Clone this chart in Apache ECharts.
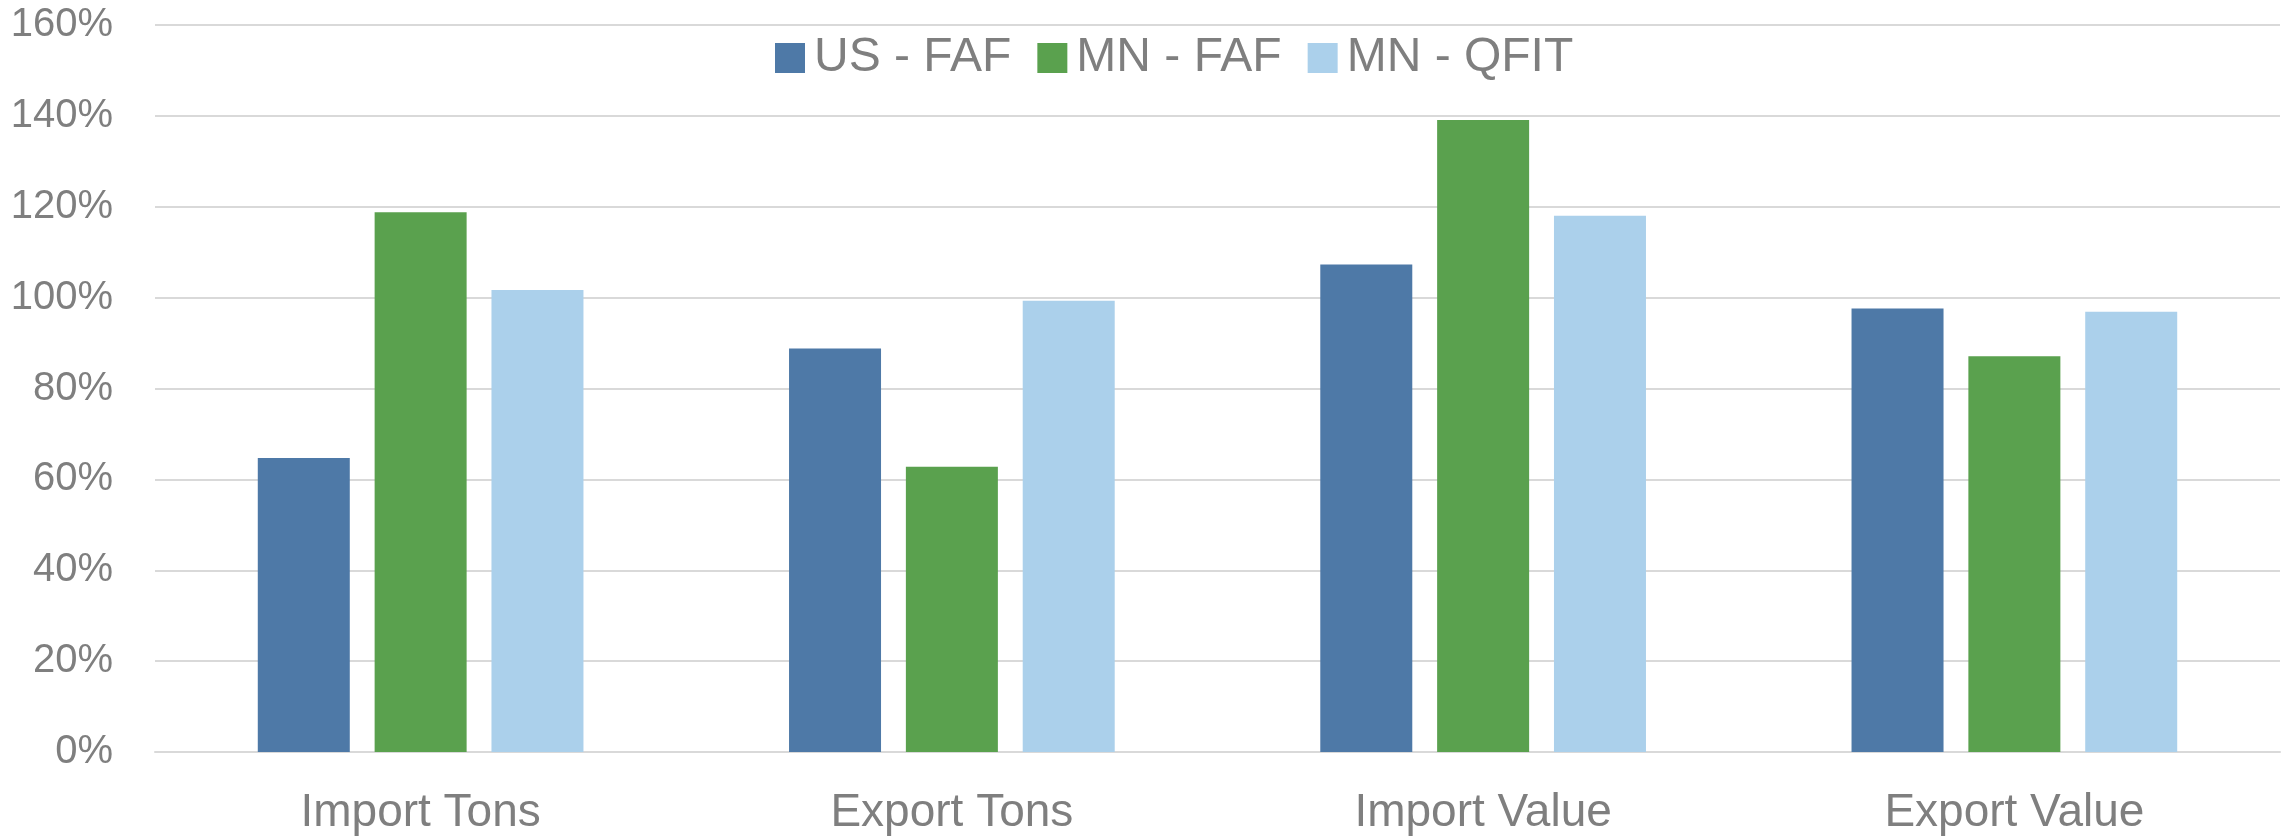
<!DOCTYPE html>
<html>
<head>
<meta charset="utf-8">
<script src="https://cdn.jsdelivr.net/npm/echarts@6/dist/echarts.min.js"></script>
<style>
  html, body { margin: 0; padding: 0; background: #fff; }
  #chart { width: 2292px; height: 838px; }
</style>
</head>
<body>
<div id="chart"></div>
<script>
const categories = ['Import Tons', 'Export Tons', 'Import Value', 'Export Value'];
const usFaf = [64.7, 88.8, 107.3, 97.6];
const mnFaf = [118.8, 62.8, 139.1, 87.1];
const mnQfit = [101.7, 99.3, 118.0, 96.9];
const yTicks = [0, 20, 40, 60, 80, 100, 120, 140, 160];

const font = "'Liberation Sans', Arial, sans-serif";
const labelColor = '#7F7F7F';

const chart = echarts.init(document.getElementById('chart'));

chart.setOption({
  backgroundColor: '#fff',
  animation: false,
  color: ['#4E79A7', '#5AA14E', '#ABD0EB'],
  textStyle: {fontFamily: font},
  legend: {
    left: 770,
    top: 29,
    itemWidth: 30,
    itemHeight: 30,
    itemGap: 26,
    icon: 'rect',
    textStyle: {color: labelColor, fontSize: 48, fontFamily: font, padding: [0, 0, 0, 4]},
    data: ['US - FAF', 'MN - FAF', 'MN - QFIT']
  },
  grid: {
    left: 155,
    right: 12,
    top: 25,
    bottom: 86
  },
  xAxis: {
    type: 'category',
    data: categories,
    axisLine: {lineStyle: {color: '#D9D9D9', width: 2}},
    axisTick: {show: false},
    axisLabel: {color: labelColor, fontSize: 46, margin: 38, fontFamily: font}
  },
  yAxis: {
    type: 'value',
    min: yTicks[0],
    max: yTicks[yTicks.length - 1],
    interval: 20,
    axisLine: {show: false},
    axisTick: {show: false},
    splitLine: {lineStyle: {color: '#D9D9D9', width: 2}},
    axisLabel: {
      color: labelColor,
      fontSize: 40,
      margin: 42,
      fontFamily: font,
      formatter: function (v) { return v + '%'; }
    }
  },
  series: [
    {name: 'US - FAF', type: 'bar', data: usFaf, barWidth: 92, barGap: '27%'},
    {name: 'MN - FAF', type: 'bar', data: mnFaf, barWidth: 92, barGap: '27%'},
    {name: 'MN - QFIT', type: 'bar', data: mnQfit, barWidth: 92, barGap: '27%'}
  ]
});
</script>
</body>
</html>
